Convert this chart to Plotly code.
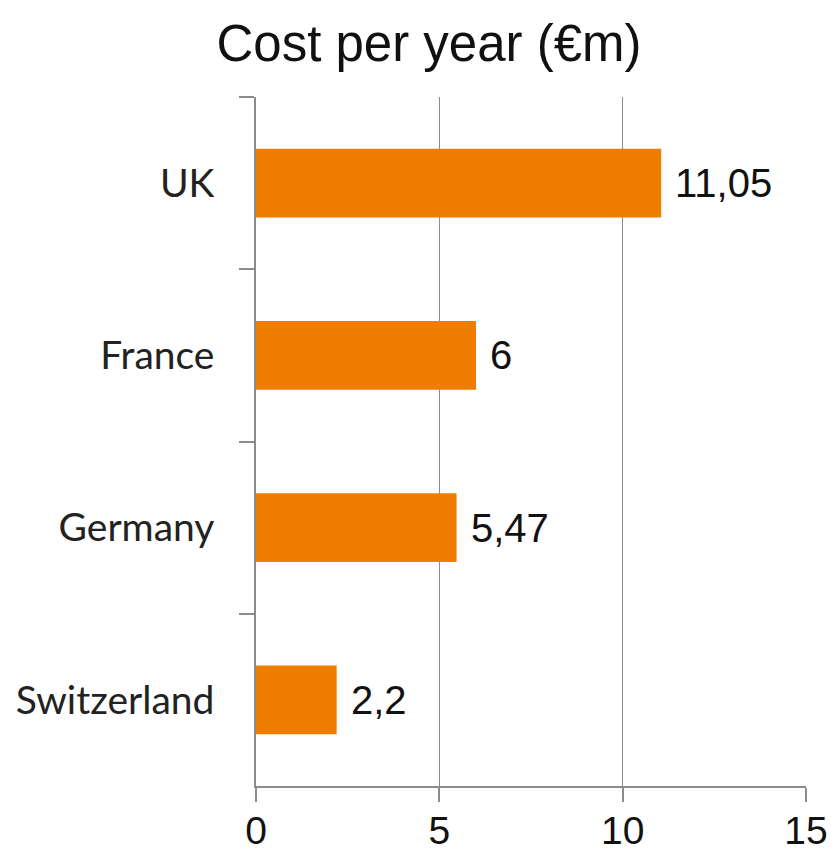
import plotly.graph_objects as go

# Annual cost per country, in millions of euros
countries = ["UK", "France", "Germany", "Switzerland"]
costs = [11.05, 6, 5.47, 2.2]
x_ticks = [0, 5, 10, 15]

BAR_COLOR = "#EE7D00"
AXIS_GREY = "#8C8C8C"


def fmt(v):
    return f"{v:g}".replace(".", ",")


fig = go.Figure(
    go.Bar(
        x=costs,
        y=countries,
        orientation="h",
        width=0.4,
        marker=dict(color=BAR_COLOR, line=dict(width=0)),
        hoverinfo="skip",
    )
)

# Value labels to the right of each bar
for c, v in zip(countries, costs):
    fig.add_annotation(
        x=v, y=c, text=fmt(v), showarrow=False,
        xanchor="left", yanchor="middle", xshift=12,
        font=dict(family="Liberation Sans, Arial", size=40, color="#111111"),
    )

fig.update_layout(
    width=831,
    height=852,
    margin=dict(l=256, r=25, t=97, b=66),
    paper_bgcolor="white",
    plot_bgcolor="white",
    showlegend=False,
    title=dict(
        text="Cost per year (€m)",
        x=429 / 831, xref="container", xanchor="center",
        y=1 - 43 / 852, yref="container", yanchor="middle",
        font=dict(family="Liberation Sans, Arial", size=51, color="#111111"),
    ),
    xaxis=dict(
        range=[0, 15],
        tickvals=x_ticks,
        ticktext=[str(t) for t in x_ticks],
        ticks="outside", ticklen=14, tickcolor=AXIS_GREY, tickwidth=1.5,
        showline=True, linecolor=AXIS_GREY, linewidth=1.5,
        showgrid=True, gridcolor=AXIS_GREY, gridwidth=1.2,
        zeroline=False,
        automargin=False,
        ticklabelstandoff=-5,
        tickfont=dict(family="Liberation Sans, Arial", size=39, color="#111111"),
    ),
    yaxis=dict(
        categoryorder="array",
        categoryarray=countries,
        autorange="reversed",
        tickson="boundaries",
        ticks="outside", ticklen=15, tickcolor=AXIS_GREY, tickwidth=1.5,
        showline=True, linecolor=AXIS_GREY, linewidth=1.5,
        showgrid=False,
        automargin=False,
        ticklabelstandoff=32,
        tickfont=dict(family="Lato, Open Sans", size=39, color="#222222"),
    ),
)

fig.write_html("out.html")
